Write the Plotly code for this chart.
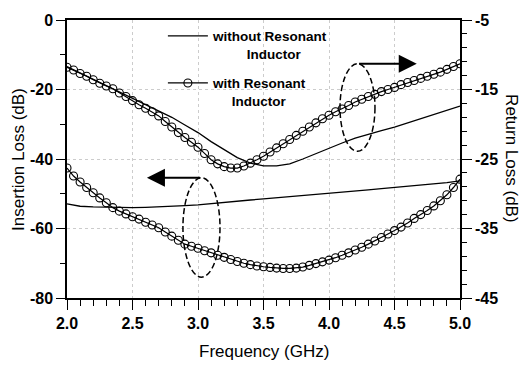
import plotly.graph_objects as go

# ---------------- data ----------------
freq_fine = [2.00, 2.05, 2.10, 2.15, 2.20, 2.25, 2.30, 2.35, 2.40, 2.45,
             2.50, 2.55, 2.60, 2.65, 2.70, 2.75, 2.80, 2.85, 2.90, 2.95,
             3.00, 3.05, 3.10, 3.15, 3.20, 3.25, 3.30, 3.35, 3.40, 3.45,
             3.50, 3.55, 3.60, 3.65, 3.70, 3.75, 3.80, 3.85, 3.90, 3.95,
             4.00, 4.05, 4.10, 4.15, 4.20, 4.25, 4.30, 4.35, 4.40, 4.45,
             4.50, 4.55, 4.60, 4.65, 4.70, 4.75, 4.80, 4.85, 4.90, 4.95, 5.00]

il_with = [-42.6, -44.9, -46.6, -48.2, -49.7, -51.2, -52.6, -54.0, -55.0, -55.8,
           -56.6, -57.3, -58.2, -59.0, -59.8, -61.0, -62.2, -63.4, -64.5, -65.1,
           -65.7, -66.4, -67.0, -67.7, -68.3, -68.9, -69.5, -70.0, -70.4, -70.8,
           -71.0, -71.2, -71.4, -71.5, -71.5, -71.4, -71.1, -70.6, -70.1, -69.6,
           -69.1, -68.4, -67.7, -67.0, -66.2, -65.4, -64.5, -63.6, -62.6, -61.6,
           -60.6, -59.6, -58.4, -57.1, -56.0, -54.8, -53.5, -52.0, -50.3, -48.2, -45.8]

rl_with = [-11.8, -12.2, -12.7, -13.1, -13.6, -14.1, -14.5, -14.9, -15.5, -16.0,
           -16.6, -17.2, -17.7, -18.2, -18.8, -19.6, -20.4, -21.2, -21.9, -22.6,
           -23.3, -24.2, -25.1, -25.7, -26.1, -26.3, -26.3, -26.0, -25.6, -25.1,
           -24.6, -24.0, -23.4, -22.8, -22.2, -21.6, -21.0, -20.4, -19.8, -19.2,
           -18.7, -18.2, -17.8, -17.3, -16.8, -16.4, -16.0, -15.7, -15.3, -15.0,
           -14.7, -14.3, -14.0, -13.7, -13.4, -13.1, -12.8, -12.5, -12.1, -11.7, -11.3]

freq_coarse = [2.0, 2.1, 2.2, 2.3, 2.4, 2.5, 2.6, 2.7, 2.8, 2.9,
               3.0, 3.1, 3.2, 3.3, 3.4, 3.5, 3.6, 3.7, 3.8, 3.9,
               4.0, 4.1, 4.2, 4.3, 4.4, 4.5, 4.6, 4.7, 4.8, 4.9, 5.0]

il_without = [-52.9, -53.6, -53.8, -53.9, -54.0, -54.0, -53.9, -53.8, -53.6, -53.4,
              -53.2, -52.8, -52.5, -52.2, -51.8, -51.5, -51.2, -50.9, -50.6, -50.3,
              -50.0, -49.7, -49.3, -48.9, -48.5, -48.2, -47.9, -47.6, -47.2, -46.8, -46.3]

rl_without = [-11.7, -12.6, -13.5, -14.4, -15.3, -16.2, -17.2, -18.1, -19.0, -20.1,
              -21.2, -22.5, -23.7, -24.8, -25.6, -26.0, -26.0, -25.7, -25.0, -24.2,
              -23.4, -22.7, -22.0, -21.4, -20.9, -20.4, -19.8, -19.2, -18.6, -18.0, -17.4]

x_ticks = [2.0, 2.5, 3.0, 3.5, 4.0, 4.5, 5.0]
x_tick_labels = ["2.0", "2.5", "3.0", "3.5", "4.0", "4.5", "5.0"]
il_ticks = [0, -20, -40, -60, -80]
il_tick_labels = ["0", "-20", "-40", "-60", "-80"]
rl_ticks = [-5, -15, -25, -35, -45]
rl_tick_labels = ["-5", "-15", "-25", "-35", "-45"]

name_without = "without Resonant<br>" + "&nbsp;" * 9 + "Inductor"
name_with = "with Resonant<br>" + "&nbsp;" * 5 + "Inductor"

# ---------------- figure ----------------
TICKFONT = dict(family="Liberation Sans Narrow, Liberation Sans, Arial", size=16,
                color="black", weight="bold")
TITLEFONT = dict(family="Liberation Sans, Arial", size=17, color="black")

fig = go.Figure()

fig.add_trace(go.Scatter(x=freq_coarse, y=rl_without, mode="lines",
                         line=dict(color="black", width=1.3),
                         name=name_without, yaxis="y2", legendgroup="a"))
fig.add_trace(go.Scatter(x=freq_coarse, y=il_without, mode="lines",
                         line=dict(color="black", width=1.3),
                         name=name_without, yaxis="y", showlegend=False, legendgroup="a"))
fig.add_trace(go.Scatter(x=freq_fine, y=rl_with, mode="lines+markers",
                         line=dict(color="black", width=1.2),
                         marker=dict(symbol="circle-open", size=8, color="black",
                                     line=dict(width=1.1, color="black")),
                         name=name_with, yaxis="y2", legendgroup="b"))
fig.add_trace(go.Scatter(x=freq_fine, y=il_with, mode="lines+markers",
                         line=dict(color="black", width=1.2),
                         marker=dict(symbol="circle-open", size=8, color="black",
                                     line=dict(width=1.1, color="black")),
                         name=name_with, yaxis="y", showlegend=False, legendgroup="b"))

fig.update_layout(
    width=527, height=374,
    margin=dict(l=67, r=67, t=18, b=76),
    paper_bgcolor="white", plot_bgcolor="white",
    showlegend=True,
    legend=dict(x=0.244, y=0.998, xanchor="left", yanchor="top",
                bgcolor="rgba(0,0,0,0)", valign="top", itemwidth=40,
                font=dict(family="Liberation Sans, Arial", size=13.5, color="black",
                          weight="bold"),
                tracegroupgap=9),
    xaxis=dict(range=[2, 5], tickvals=x_ticks, ticktext=x_tick_labels,
               ticks="outside", ticklen=10, tickwidth=1.3, tickcolor="black",
               showline=True, linewidth=1.5, linecolor="black", mirror=True,
               showgrid=True, gridcolor="#cccccc", griddash="dot", gridwidth=1,
               zeroline=False, tickfont=TICKFONT,
               minor=dict(dtick=0.1, tick0=2, ticks="outside", ticklen=6,
                          tickwidth=1.2, tickcolor="black", showgrid=False)),
    yaxis=dict(range=[-80, 0], tickvals=il_ticks, ticktext=il_tick_labels,
               ticks="outside", ticklen=9, tickwidth=1.3, tickcolor="black",
               showline=True, linewidth=1.5, linecolor="black",
               showgrid=True, gridcolor="#cccccc", griddash="dot", gridwidth=1,
               zeroline=False, tickfont=TICKFONT,
               minor=dict(dtick=10, tick0=0, ticks="outside", ticklen=5,
                          tickwidth=1.2, tickcolor="black", showgrid=False)),
    yaxis2=dict(range=[-45, -5], tickvals=rl_ticks, ticktext=rl_tick_labels,
                overlaying="y", side="right",
                ticks="outside", ticklen=10, tickwidth=1.3, tickcolor="black",
                showline=True, linewidth=1.5, linecolor="black",
                showgrid=False, zeroline=False, tickfont=TICKFONT,
                minor=dict(dtick=2, tick0=-5, ticks="outside", ticklen=5,
                           tickwidth=1.2, tickcolor="black", showgrid=False)),
)

# dashed ellipses marking curve groups
fig.add_shape(type="circle", xref="x", yref="y", x0=2.885, x1=3.168, y0=-74.0, y1=-45.4,
              line=dict(color="black", width=1.5, dash="6px,3px"))
fig.add_shape(type="circle", xref="x", yref="y2", x0=4.084, x1=4.351, y0=-23.9, y1=-11.3,
              line=dict(color="black", width=1.5, dash="6px,3px"))

# arrows pointing to the relevant axes
fig.add_annotation(x=2.61, y=-45.4, xref="x", yref="y", ax=3.027, ay=-45.4,
                   axref="x", ayref="y", text="", showarrow=True, arrowhead=2,
                   arrowsize=1.8, arrowwidth=2, arrowcolor="black")
fig.add_annotation(x=4.67, y=-11.3, xref="x", yref="y2", ax=4.218, ay=-11.3,
                   axref="x", ayref="y2", text="", showarrow=True, arrowhead=2,
                   arrowsize=1.8, arrowwidth=2, arrowcolor="black")

# axis titles
fig.add_annotation(x=0.5, y=-0.193, xref="paper", yref="paper", text="Frequency (GHz)",
                   showarrow=False, font=TITLEFONT, xanchor="center", yanchor="middle")
fig.add_annotation(x=-0.125, y=0.5, xref="paper", yref="paper", text="Insertion Loss (dB)",
                   showarrow=False, font=TITLEFONT, textangle=-90,
                   xanchor="center", yanchor="middle")
fig.add_annotation(x=1.132, y=0.5, xref="paper", yref="paper", text="Return Loss (dB)",
                   showarrow=False, font=TITLEFONT, textangle=90,
                   xanchor="center", yanchor="middle")

fig.write_html("out.html")
